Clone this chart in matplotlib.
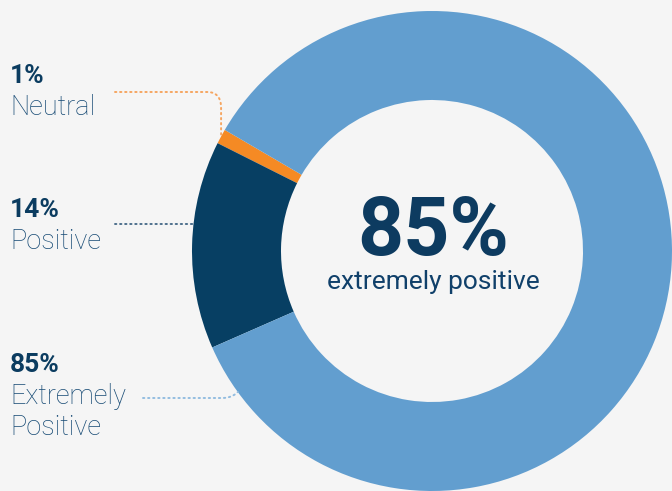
import numpy as np
import matplotlib.pyplot as plt

plt.rcParams['font.family'] = ['Roboto', 'DejaVu Sans']

labels = ["Neutral", "Positive", "Extremely\nPositive"]
shares = [1, 14, 85]
colors = ["#F58A24", "#073F63", "#629ECF"]
line_colors = ["#F5A560", "#4D6F8C", "#93BDE0"]

W, H = 672, 491
cx, cy = 432, H - 251
r_out, r_in = 240, 151
start = 149.7

fig = plt.figure(figsize=(W / 100, H / 100), dpi=100)
fig.patch.set_facecolor("#F5F5F5")
ax = fig.add_axes([0, 0, 1, 1])
ax.set_facecolor("#F5F5F5")

wedges, _ = ax.pie(shares, colors=colors, startangle=start, counterclock=True,
                   radius=r_out, center=(cx, cy), frame=True,
                   wedgeprops=dict(width=r_out - r_in, linewidth=0))
ax.set_xlim(0, W)
ax.set_ylim(0, H)
ax.set_aspect("equal")
ax.axis("off")


def img_y(y):
    return H - y


def rounded(p0, corner, p1, n=20):
    # quadratic bezier between two straight runs
    t = np.linspace(0, 1, n)[:, None]
    p0, c, p1 = map(np.array, (p0, corner, p1))
    return (1 - t) ** 2 * p0 + 2 * (1 - t) * t * c + t ** 2 * p1


dot = dict(linestyle=(0, (0.7, 1.9)), linewidth=1.4, dash_capstyle="round")

# Neutral: horizontal run, rounded corner, down to the orange wedge
mid = np.deg2rad(start + shares[0] * 3.6 / 2)
ex, ey = cx + r_out * np.cos(mid), cy + r_out * np.sin(mid)
y0 = img_y(92)
curve = rounded((207, y0), (ex, y0), (ex, y0 - 16))
xs = np.r_[115, curve[:, 0], ex]
ys = np.r_[y0, curve[:, 1], ey]
ax.plot(xs, ys, color=line_colors[0], **dot)

# Positive: straight run to the outer edge
y1 = img_y(224)
x1 = cx - np.sqrt(r_out ** 2 - (y1 - cy) ** 2)
ax.plot([115, x1], [y1, y1], color=line_colors[1], **dot)

# Extremely positive: horizontal run bending up to the ring
y2 = img_y(398)
y2e = img_y(392)
x2e = cx - np.sqrt(r_out ** 2 - (y2e - cy) ** 2)
curve = rounded((222, y2), (x2e - 6, y2), (x2e, y2e))
xs = np.r_[143, curve[:, 0]]
ys = np.r_[y2, curve[:, 1]]
ax.plot(xs, ys, color=line_colors[2], **dot)

# side labels
bold_c, reg_c = "#0B3C60", "#164A74"
label_tops = [83, 217, 372]
for pct, name, base in zip(shares, labels, label_tops):
    ax.text(10, img_y(base), f"{pct}%", fontsize=19, fontweight="bold",
            color=bold_c, ha="left", va="baseline")
    for i, line in enumerate(name.split("\n")):
        ax.text(10, img_y(base + 31.5 * (i + 1)), line, fontsize=19.5,
                fontweight="light", color=reg_c, ha="left", va="baseline")

# centre figure
ax.text(cx + 1, img_y(255), f"{shares[2]}%", fontsize=58, fontweight="bold",
        color="#0D3B60", ha="center", va="baseline")
ax.text(cx + 1, img_y(289.5), "extremely positive", fontsize=19,
        color="#10406A", ha="center", va="baseline")

fig.savefig("out.png", dpi=100, facecolor=fig.get_facecolor())
